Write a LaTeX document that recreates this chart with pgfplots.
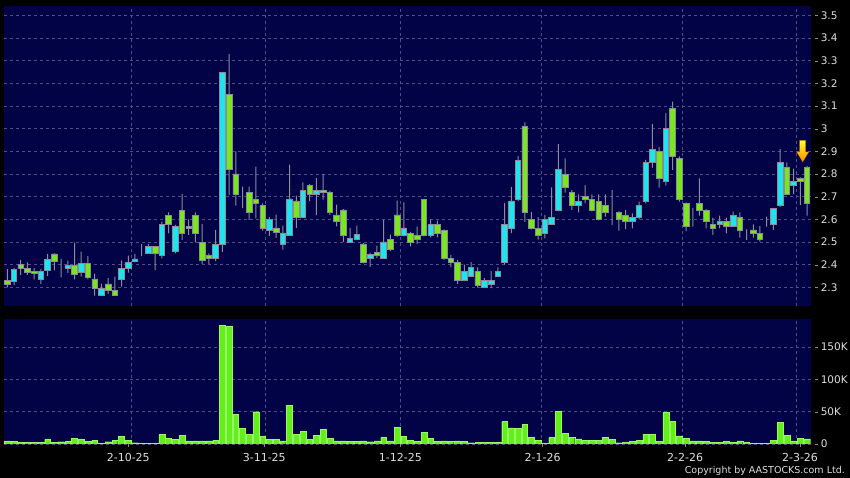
\documentclass[border=0pt]{standalone}
\usepackage{fontspec}
\setmainfont{DejaVu Sans}
\usepackage{pgfplots}
\usepackage{pgfplotstable}
\pgfplotsset{compat=1.18}
\definecolor{navy}{RGB}{2,2,70}
\definecolor{gridc}{RGB}{78,78,132}
\definecolor{cup}{RGB}{30,228,240}
\definecolor{cdn}{RGB}{122,230,30}
\definecolor{vbar}{RGB}{100,238,28}
\definecolor{vbard}{RGB}{150,250,100}
\definecolor{txt}{RGB}{222,222,222}
\definecolor{wick}{RGB}{140,140,150}
\newcommand{\tl}[1]{\textcolor{wick}{\rule[0.3em]{3pt}{0.7pt}}\hspace{2.6pt}#1}

\pgfplotstableread{
i o h l c
0 2.33 2.38 2.30 2.315
1 2.325 2.385 2.31 2.38
2 2.40 2.42 2.355 2.385
3 2.385 2.41 2.355 2.365
4 2.37 2.385 2.335 2.36
5 2.335 2.38 2.315 2.37
6 2.375 2.447 2.35 2.425
7 2.447 2.45 2.375 2.415
8 2.385 2.426 2.344 2.385
9 2.385 2.418 2.362 2.397
10 2.397 2.497 2.335 2.356
11 2.365 2.457 2.347 2.407
12 2.407 2.438 2.335 2.344
13 2.337 2.36 2.263 2.296
14 2.265 2.316 2.265 2.296
15 2.315 2.34 2.27 2.285
16 2.288 2.347 2.265 2.265
17 2.335 2.418 2.303 2.385
18 2.382 2.44 2.365 2.409
19 2.415 2.447 2.41 2.425
20 2.453 2.49 2.438 2.453
21 2.45 2.49 2.448 2.48
22 2.48 2.48 2.376 2.45
23 2.44 2.59 2.428 2.578
24 2.616 2.63 2.538 2.578
25 2.459 2.575 2.45 2.568
26 2.638 2.712 2.509 2.538
27 2.559 2.60 2.531 2.568
28 2.616 2.63 2.498 2.538
29 2.499 2.58 2.403 2.418
30 2.441 2.45 2.403 2.426
31 2.426 2.553 2.416 2.488
32 2.49 3.25 2.456 3.249
33 3.151 3.33 2.707 2.821
34 2.80 2.90 2.66 2.71
35 2.70 2.744 2.649 2.70
36 2.72 2.744 2.597 2.63
37 2.688 2.832 2.604 2.669
38 2.662 2.67 2.55 2.559
39 2.55 2.609 2.527 2.60
40 2.562 2.621 2.518 2.541
41 2.491 2.572 2.466 2.54
42 2.529 2.841 2.529 2.69
43 2.681 2.704 2.562 2.609
44 2.609 2.763 2.605 2.729
45 2.751 2.755 2.68 2.712
46 2.712 2.782 2.618 2.728
47 2.729 2.80 2.687 2.72
48 2.72 2.725 2.62 2.632
49 2.619 2.665 2.569 2.593
50 2.641 2.645 2.50 2.529
51 2.50 2.562 2.495 2.515
52 2.513 2.572 2.51 2.532
53 2.491 2.495 2.405 2.41
54 2.428 2.452 2.39 2.444
55 2.452 2.484 2.43 2.441
56 2.428 2.596 2.425 2.50
57 2.513 2.532 2.46 2.469
58 2.619 2.682 2.521 2.531
59 2.531 2.675 2.525 2.562
60 2.539 2.545 2.48 2.499
61 2.529 2.568 2.49 2.512
62 2.689 2.69 2.525 2.529
63 2.529 2.60 2.52 2.577
64 2.577 2.594 2.52 2.539
65 2.551 2.555 2.42 2.428
66 2.427 2.442 2.388 2.412
67 2.409 2.421 2.315 2.332
68 2.331 2.40 2.33 2.371
69 2.347 2.411 2.345 2.388
70 2.371 2.388 2.299 2.307
71 2.299 2.34 2.298 2.33
72 2.315 2.371 2.296 2.33
73 2.347 2.388 2.345 2.371
74 2.411 2.672 2.40 2.577
75 2.561 2.742 2.539 2.681
76 2.688 2.879 2.68 2.86
77 3.011 3.028 2.589 2.631
78 2.601 2.632 2.555 2.561
79 2.561 2.61 2.51 2.529
80 2.538 2.619 2.516 2.601
81 2.578 2.741 2.575 2.609
82 2.641 2.932 2.635 2.821
83 2.799 2.869 2.718 2.741
84 2.718 2.73 2.641 2.662
85 2.662 2.71 2.631 2.678
86 2.70 2.751 2.671 2.688
87 2.688 2.71 2.635 2.641
88 2.678 2.71 2.595 2.60
89 2.66 2.71 2.612 2.631
90 2.618 2.729 2.575 2.618
91 2.631 2.635 2.55 2.60
92 2.618 2.641 2.557 2.591
93 2.593 2.626 2.56 2.61
94 2.609 2.678 2.60 2.662
95 2.679 2.862 2.67 2.851
96 2.851 3.021 2.828 2.909
97 2.90 2.918 2.74 2.781
98 2.768 3.068 2.749 3.001
99 3.09 3.119 2.818 2.876
100 2.87 2.878 2.678 2.686
101 2.671 2.675 2.548 2.568
102 2.631 2.649 2.568 2.631
103 2.671 2.781 2.616 2.638
104 2.638 2.645 2.56 2.59
105 2.578 2.607 2.531 2.56
106 2.578 2.616 2.56 2.593
107 2.59 2.607 2.538 2.569
108 2.569 2.634 2.565 2.616
109 2.607 2.631 2.519 2.553
110 2.553 2.556 2.509 2.553
111 2.553 2.578 2.519 2.538
112 2.538 2.57 2.501 2.512
113 2.607 2.612 2.568 2.607
114 2.578 2.649 2.553 2.649
115 2.663 2.91 2.655 2.851
116 2.83 2.851 2.71 2.712
117 2.749 2.823 2.711 2.767
118 2.781 2.785 2.663 2.767
119 2.83 2.835 2.616 2.671
}\price

\pgfplotstableread{
i v
0 4700
1 4000
2 2600
3 2600
4 2600
5 3000
6 7000
7 2600
8 3500
9 4000
10 8800
11 7000
12 4000
13 5700
14 1500
15 3500
16 5700
17 12000
18 5700
19 2000
20 1500
21 1000
22 1000
23 14500
24 8300
25 6700
26 13500
27 4700
28 5000
29 5000
30 5000
31 6000
32 184000
33 182000
34 46000
35 24000
36 14500
37 50000
38 11400
39 6700
40 7000
41 5000
42 60000
43 15000
44 19700
45 7000
46 13500
47 22800
48 8300
49 4700
50 4700
51 4000
52 4000
53 5000
54 3500
55 4700
56 9800
57 4700
58 26000
59 11400
60 5700
61 4000
62 17500
63 8300
64 3600
65 4700
66 4000
67 4700
68 4000
69 2000
70 2600
71 3000
72 2600
73 2600
74 34700
75 25000
76 24000
77 30000
78 10400
79 5700
80 1000
81 9800
82 50800
83 16600
84 10400
85 7800
86 5700
87 5700
88 5700
89 10400
90 6700
91 2000
92 3000
93 3600
94 5700
95 15000
96 15000
97 4000
98 48700
99 34700
100 12400
101 8800
102 4700
103 5000
104 4000
105 3000
106 2600
107 4000
108 2600
109 4700
110 2600
111 1000
112 1000
113 1000
114 5700
115 33700
116 13000
117 5000
118 8800
119 7800
}\vol

\pgfplotsset{
  panel/.style={
    scale only axis, width=806.7pt, anchor=south west,
    xmin=-0.491, xmax=119.55,
    axis line style={draw=none},
    tick style={draw=none},
    grid style={gridc, dash pattern=on 3pt off 3pt, line width=0.6pt},
  },
}

\begin{document}
\begin{tikzpicture}
\fill[black] (0pt,0pt) rectangle (850pt,478pt);

% ---- price panel: background, grid, wicks
\begin{axis}[panel, at={(4pt,172.3pt)}, height=299.7pt,
  ymin=2.2188, ymax=3.541,
  axis background/.style={fill=navy},
  xtick={18.45,38.39,58.48,79.52,100.45,117.44}, xticklabels={},
  ytick={2.3,2.4,2.5,2.6,2.7,2.8,2.9,3.0,3.1,3.2,3.3,3.4,3.5},
  yticklabels={\tl{2.3},\tl{2.4},\tl{2.5},\tl{2.6},\tl{2.7},\tl{2.8},\tl{2.9},\tl{3},\tl{3.1},\tl{3.2},\tl{3.3},\tl{3.4},\tl{3.5}},
  yticklabel pos=right,
  yticklabel style={anchor=west, inner sep=0pt, xshift=4.3pt, text=txt, font=\fontsize{10.5}{12}\selectfont},
  grid=major,
  ybar stacked, bar width=1pt]
\addplot[draw=none, fill=none] table[x=i, y=l] {\price};
\addplot[draw=none, fill=wick] table[x=i, y expr=\thisrow{h}-\thisrow{l}] {\price};
\end{axis}

% ---- price panel: bodies
\begin{axis}[panel, at={(4pt,172.3pt)}, height=299.7pt,
  ymin=2.2188, ymax=3.541, hide axis,
  ybar stacked, bar width=5.6pt]
\addplot[draw=none, fill=none] table[x=i, y expr={min(\thisrow{o},\thisrow{c})}] {\price};
\addplot[fill=cup, draw=wick, line width=0.7pt] table[x=i, y expr={max(\thisrow{c}-\thisrow{o},0)}] {\price};
\addplot[fill=cdn, draw=wick, line width=0.7pt] table[x=i, y expr={max(\thisrow{o}-\thisrow{c},0)}] {\price};
\shade[top color=yellow!85!white, bottom color=orange!90!yellow, draw=orange!80!black, line width=0.3pt]
  (axis cs:118.36,2.853) -- ++(-6pt,10pt) -- ++(3pt,0pt) -- ++(0pt,11.5pt)
  -- ++(6pt,0pt) -- ++(0pt,-11.5pt) -- ++(3pt,0pt) -- cycle;
\end{axis}

% ---- volume panel
\begin{axis}[panel, at={(4pt,34pt)}, height=125pt,
  ymin=0, ymax=193600,
  axis background/.style={fill=navy},
  xtick pos=bottom,
  xtick={18.45,38.39,58.48,79.52,100.45,117.44}, xticklabels={},
  extra x ticks={18.0,38.24,58.48,79.67,100.85,117.96},
  extra x tick labels={2-10-25,3-11-25,1-12-25,2-1-26,2-2-26,2-3-26},
  extra x tick style={grid=none, tick style={draw=wick, line width=0.6pt}, major tick length=3pt, tick align=outside},
  xticklabel style={anchor=base, inner sep=0pt, yshift=-15pt, text=txt, font=\fontsize{11}{12}\selectfont},
  scaled y ticks=false,
  ytick={0,50000,100000,150000},
  yticklabels={\tl{0},\tl{50K},\tl{100K},\tl{150K}},
  yticklabel pos=right,
  yticklabel style={anchor=west, inner sep=0pt, xshift=4.3pt, text=txt, font=\fontsize{10.5}{12}\selectfont},
  grid=major,
  ybar, bar width=5.8pt]
\addplot[fill=vbar, draw=vbard, line width=0.4pt] table[x=i, y=v] {\vol};
\end{axis}

\node[anchor=base east, inner sep=0pt, text=txt, font=\fontsize{9.5}{10}\selectfont] at (845pt,4.5pt) {Copyright by AASTOCKS.com Ltd.};
\end{tikzpicture}
\end{document}
